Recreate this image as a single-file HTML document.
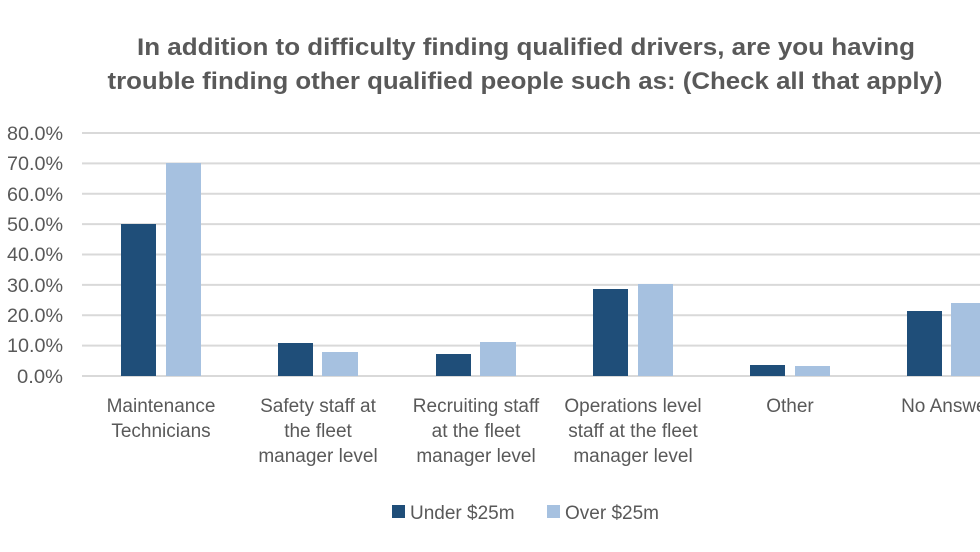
<!DOCTYPE html>
<html><head><meta charset="utf-8"><style>
html,body{margin:0;padding:0;background:#fff;}
svg{display:block;font-family:"Liberation Sans",sans-serif;}
</style></head><body>
<svg width="980" height="552" viewBox="0 0 980 552" xmlns="http://www.w3.org/2000/svg">
<rect width="980" height="552" fill="#fff"/>
<g fill="#595959" font-weight="bold" font-size="24" text-anchor="middle">
<text x="526" y="55" textLength="778" lengthAdjust="spacingAndGlyphs">In addition to difficulty finding qualified drivers, are you having</text>
<text x="525" y="89" textLength="835" lengthAdjust="spacingAndGlyphs">trouble finding other qualified people such as: (Check all that apply)</text>
</g>
<g stroke="#d9d9d9" stroke-width="2">
<line x1="82" x2="980" y1="133" y2="133"/>
<line x1="82" x2="980" y1="163.4" y2="163.4"/>
<line x1="82" x2="980" y1="193.8" y2="193.8"/>
<line x1="82" x2="980" y1="224.1" y2="224.1"/>
<line x1="82" x2="980" y1="254.5" y2="254.5"/>
<line x1="82" x2="980" y1="284.9" y2="284.9"/>
<line x1="82" x2="980" y1="315.3" y2="315.3"/>
<line x1="82" x2="980" y1="345.6" y2="345.6"/>
<line x1="82" x2="980" y1="376" y2="376"/>
</g>
<g fill="#595959" font-size="19" text-anchor="end">
<text x="63" y="140" textLength="56" lengthAdjust="spacingAndGlyphs">80.0%</text>
<text x="63" y="170" textLength="56" lengthAdjust="spacingAndGlyphs">70.0%</text>
<text x="63" y="201" textLength="56" lengthAdjust="spacingAndGlyphs">60.0%</text>
<text x="63" y="231" textLength="56" lengthAdjust="spacingAndGlyphs">50.0%</text>
<text x="63" y="261" textLength="56" lengthAdjust="spacingAndGlyphs">40.0%</text>
<text x="63" y="292" textLength="56" lengthAdjust="spacingAndGlyphs">30.0%</text>
<text x="63" y="322" textLength="56" lengthAdjust="spacingAndGlyphs">20.0%</text>
<text x="63" y="352" textLength="56" lengthAdjust="spacingAndGlyphs">10.0%</text>
<text x="63" y="383" textLength="46" lengthAdjust="spacingAndGlyphs">0.0%</text>
</g>
<g fill="#1f4e79">
<rect x="121" y="224" width="35" height="152"/>
<rect x="278" y="343" width="35" height="33"/>
<rect x="436" y="354" width="35" height="22"/>
<rect x="593" y="289" width="35" height="87"/>
<rect x="750" y="365" width="35" height="11"/>
<rect x="907" y="311" width="35" height="65"/>
</g>
<g fill="#a6c1e0">
<rect x="166" y="163" width="35" height="213"/>
<rect x="322" y="352" width="36" height="24"/>
<rect x="480" y="342" width="36" height="34"/>
<rect x="638" y="284" width="35" height="92"/>
<rect x="795" y="366" width="35" height="10"/>
<rect x="951" y="303" width="35" height="73"/>
</g>
<g fill="#595959" font-size="19" text-anchor="middle">
<text x="161" y="412">Maintenance</text>
<text x="161" y="437">Technicians</text>
<text x="318" y="412">Safety staff at</text>
<text x="318" y="437">the fleet</text>
<text x="318" y="462">manager level</text>
<text x="476" y="412">Recruiting staff</text>
<text x="476" y="437">at the fleet</text>
<text x="476" y="462">manager level</text>
<text x="633" y="412">Operations level</text>
<text x="633" y="437">staff at the fleet</text>
<text x="633" y="462">manager level</text>
<text x="790" y="412">Other</text>
<text x="947" y="412">No Answer</text>
</g>
<rect x="392" y="505" width="13" height="13" fill="#1f4e79"/>
<text x="410" y="519" fill="#595959" font-size="19">Under $25m</text>
<rect x="547" y="505" width="13" height="13" fill="#a6c1e0"/>
<text x="565" y="519" fill="#595959" font-size="19">Over $25m</text>
</svg>
</body></html>
